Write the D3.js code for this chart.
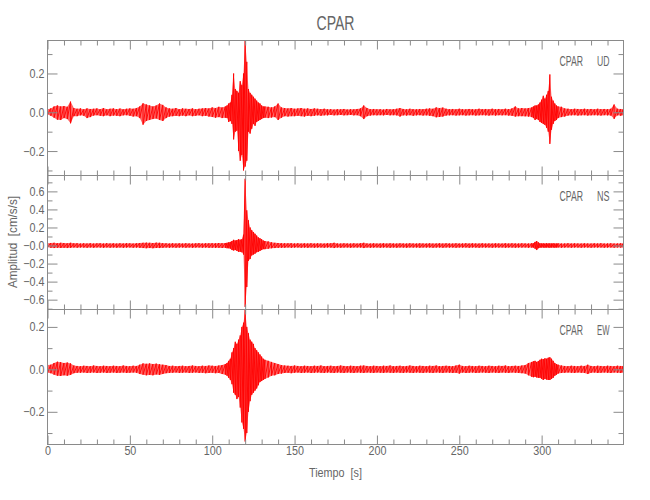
<!DOCTYPE html>
<html><head><meta charset="utf-8">
<script src="https://cdn.jsdelivr.net/npm/d3@7"></script>
<style>body{margin:0;background:#fff}svg{display:block}</style>
</head><body>
<svg id="chart" width="650" height="500"></svg>
<script>
// ---- sampling times (s) ----
const timeGrid = [
0,2,4,6,8,10,12,14,16,18,
20,22,24,26,28,30,32,34,36,38,
40,42,44,46,48,50,52,54,56,58,
60,62,64,66,68,70,72,74,76,78,
80,82,84,86,88,90,92,94,96,98,
100,102,104,106,108,
109,110,111,112,113,114,115,116,117,118,
119,120,121,122,123,124,125,126,127,128,
129,130,131,
132,134,136,138,140,142,144,146,148,150,
152,154,156,158,160,162,164,166,168,170,
172,174,176,178,180,182,184,186,188,190,
192,194,196,198,200,202,204,206,208,210,
212,214,216,218,220,222,224,226,228,230,
232,234,236,238,240,242,244,246,248,250,
252,254,256,258,260,262,264,266,268,270,
272,274,276,278,280,282,284,286,288,290,
292,294,
295,296,297,298,299,300,301,302,303,304,
305,306,307,308,309,
310,312,314,316,318,320,322,324,326,328,
330,332,334,336,338,340,342,344,346,348,
349.5];

// ---- CPAR UD: positive / negative peak amplitude (cm/s/s) ----
const udHigh = [
.015,.02,.03,.035,.03,.032,.028,.055,.022,.018,
.02,.015,.02,.017,.018,.02,.016,.022,.015,.018,
.02,.016,.019,.015,.018,.02,.018,.022,.03,.046,
.04,.035,.03,.035,.045,.038,.025,.02,.018,.022,
.016,.02,.018,.017,.02,.016,.018,.02,.022,.02,
.025,.022,.028,.025,.03,
.035,.045,.05,.09,.2,.12,.11,.1,.16,.14,
.2,.37,.26,.12,.1,.09,.08,.07,.06,.05,
.045,.035,.03,
.03,.028,.025,.03,.045,.025,.022,.02,.022,.018,
.02,.022,.018,.02,.017,.02,.018,.016,.018,.015,
.016,.014,.016,.015,.017,.014,.016,.015,.017,.02,
.035,.022,.016,.017,.015,.016,.014,.017,.015,.016,
.018,.022,.017,.015,.018,.016,.015,.017,.016,.018,
.02,.018,.025,.022,.024,.018,.016,.017,.015,.018,
.016,.015,.017,.016,.015,.018,.016,.017,.015,.018,
.016,.017,.015,.018,.016,.02,.03,.02,.022,.02,
.022,.025,
.03,.035,.035,.04,.05,.065,.085,.07,.09,.11,
.195,.08,.06,.045,.035,
.03,.028,.02,.018,.016,.018,.017,.016,.018,.016,
.017,.015,.018,.016,.017,.016,.018,.04,.018,.017,
.015];
const udLow = [
-.012,-.018,-.028,-.038,-.04,-.03,-.035,-.057,-.02,-.02,
-.016,-.018,-.03,-.025,-.017,-.015,-.018,-.02,-.016,-.02,
-.017,-.018,-.02,-.016,-.015,-.018,-.022,-.02,-.03,-.064,
-.045,-.04,-.035,-.032,-.04,-.045,-.03,-.022,-.02,-.018,
-.02,-.017,-.02,-.016,-.02,-.018,-.016,-.02,-.018,-.022,
-.024,-.028,-.025,-.03,-.028,
-.03,-.05,-.045,-.06,-.14,-.1,-.095,-.2,-.25,-.22,
-.3,-.28,-.25,-.1,-.11,-.085,-.06,-.07,-.05,-.045,
-.04,-.035,-.03,
-.028,-.03,-.027,-.025,-.04,-.028,-.02,-.022,-.02,-.02,
-.018,-.02,-.022,-.018,-.02,-.018,-.016,-.018,-.016,-.016,
-.014,-.016,-.015,-.014,-.016,-.015,-.014,-.016,-.015,-.02,
-.035,-.02,-.017,-.015,-.016,-.015,-.016,-.014,-.016,-.015,
-.016,-.022,-.016,-.017,-.015,-.018,-.016,-.015,-.017,-.016,
-.018,-.02,-.026,-.024,-.022,-.017,-.016,-.015,-.017,-.016,
-.015,-.017,-.016,-.015,-.017,-.016,-.015,-.016,-.017,-.015,
-.017,-.015,-.016,-.015,-.017,-.018,-.022,-.02,-.02,-.021,
-.022,-.025,
-.03,-.04,-.035,-.04,-.05,-.055,-.06,-.065,-.08,-.1,
-.163,-.09,-.06,-.045,-.04,
-.03,-.025,-.022,-.017,-.016,-.015,-.017,-.016,-.015,-.017,
-.016,-.015,-.016,-.017,-.015,-.016,-.017,-.034,-.016,-.018,
-.015];

// ---- CPAR NS ----
const nsHigh = [
.025,.028,.03,.026,.03,.028,.025,.03,.024,.026,
.022,.025,.023,.026,.022,.024,.025,.022,.026,.023,
.024,.022,.025,.023,.026,.024,.022,.025,.028,.03,
.032,.03,.028,.032,.03,.026,.024,.022,.025,.023,
.024,.022,.025,.023,.022,.024,.026,.023,.025,.024,
.026,.025,.028,.026,.028,
.03,.035,.04,.05,.063,.055,.06,.07,.065,.07,
.12,.74,.39,.28,.2,.17,.15,.13,.11,.09,
.08,.07,.055,
.05,.045,.035,.03,.028,.026,.025,.024,.026,.023,
.025,.022,.024,.023,.025,.022,.024,.023,.022,.025,
.024,.03,.023,.022,.024,.023,.022,.024,.022,.025,
.03,.023,.022,.024,.022,.023,.025,.022,.024,.023,
.022,.024,.023,.022,.025,.023,.022,.024,.023,.022,
.024,.022,.023,.025,.022,.024,.023,.022,.024,.022,
.023,.025,.022,.024,.023,.022,.024,.022,.023,.022,
.024,.023,.022,.025,.022,.024,.023,.022,.024,.023,
.022,.025,
.024,.04,.05,.035,.025,.023,.024,.022,.025,.023,
.024,.022,.025,.023,.022,
.024,.022,.023,.025,.022,.024,.023,.022,.024,.023,
.022,.024,.023,.025,.022,.023,.024,.022,.023,.024,
.022];
const nsLow = [
-.02,-.026,-.028,-.025,-.027,-.025,-.028,-.026,-.022,-.024,
-.022,-.023,-.025,-.022,-.024,-.022,-.023,-.025,-.022,-.024,
-.022,-.024,-.022,-.025,-.023,-.022,-.024,-.023,-.026,-.028,
-.03,-.028,-.03,-.027,-.028,-.025,-.023,-.024,-.022,-.024,
-.023,-.022,-.024,-.022,-.025,-.023,-.022,-.024,-.023,-.025,
-.024,-.026,-.025,-.027,-.026,
-.03,-.03,-.035,-.05,-.055,-.05,-.06,-.07,-.07,-.075,
-.1,-.68,-.46,-.17,-.15,-.11,-.1,-.09,-.075,-.07,
-.06,-.05,-.04,
-.04,-.035,-.03,-.028,-.026,-.025,-.024,-.022,-.025,-.023,
-.022,-.024,-.023,-.025,-.022,-.024,-.023,-.022,-.024,-.022,
-.023,-.028,-.022,-.024,-.023,-.022,-.024,-.022,-.023,-.022,
-.028,-.022,-.024,-.023,-.022,-.024,-.022,-.023,-.025,-.022,
-.024,-.022,-.023,-.024,-.022,-.023,-.022,-.024,-.022,-.023,
-.022,-.024,-.023,-.022,-.024,-.022,-.023,-.022,-.024,-.022,
-.023,-.022,-.024,-.022,-.023,-.024,-.022,-.023,-.022,-.024,
-.022,-.023,-.022,-.024,-.022,-.023,-.024,-.022,-.023,-.022,
-.024,-.023,
-.023,-.035,-.05,-.03,-.024,-.022,-.023,-.024,-.022,-.023,
-.025,-.022,-.023,-.024,-.022,
-.022,-.024,-.023,-.022,-.024,-.022,-.023,-.024,-.022,-.023,
-.024,-.022,-.023,-.022,-.024,-.023,-.022,-.024,-.022,-.023,
-.022];

// ---- CPAR EW ----
const ewHigh = [
.02,.022,.03,.036,.034,.03,.032,.028,.018,.016,
.015,.017,.016,.015,.018,.016,.015,.017,.016,.015,
.017,.016,.015,.018,.016,.015,.017,.016,.022,.028,
.026,.028,.025,.027,.024,.022,.02,.016,.017,.015,
.016,.017,.015,.016,.018,.016,.015,.017,.016,.018,
.017,.016,.018,.02,.025,
.03,.04,.05,.08,.1,.13,.12,.14,.16,.2,
.22,.28,.2,.17,.14,.13,.12,.1,.09,.08,
.07,.06,.05,
.045,.04,.035,.03,.025,.02,.018,.017,.016,.018,
.016,.015,.017,.016,.015,.017,.016,.018,.015,.016,
.017,.015,.016,.018,.016,.015,.017,.016,.015,.017,
.018,.016,.015,.017,.016,.015,.017,.016,.018,.015,
.016,.017,.015,.016,.018,.016,.015,.017,.016,.015,
.017,.016,.018,.015,.016,.017,.016,.015,.018,.022,
.016,.015,.017,.016,.015,.017,.016,.015,.017,.016,
.015,.017,.016,.018,.015,.016,.017,.016,.018,.02,
.03,.035,
.038,.04,.035,.039,.045,.05,.048,.052,.05,.055,
.057,.05,.04,.03,.025,
.022,.018,.016,.015,.017,.016,.015,.017,.016,.022,
.016,.015,.017,.016,.015,.017,.016,.015,.017,.016,
.016];
const ewLow = [
-.016,-.018,-.025,-.03,-.031,-.028,-.03,-.026,-.018,-.016,
-.016,-.015,-.017,-.016,-.015,-.017,-.016,-.015,-.017,-.016,
-.015,-.017,-.016,-.015,-.017,-.016,-.015,-.016,-.022,-.025,
-.028,-.026,-.028,-.024,-.026,-.022,-.018,-.017,-.016,-.015,
-.017,-.016,-.015,-.017,-.016,-.015,-.017,-.016,-.018,-.017,
-.016,-.018,-.017,-.022,-.025,
-.03,-.04,-.05,-.07,-.11,-.12,-.14,-.13,-.18,-.25,
-.28,-.34,-.3,-.2,-.15,-.12,-.11,-.1,-.09,-.075,
-.06,-.055,-.05,
-.045,-.038,-.03,-.028,-.022,-.02,-.017,-.016,-.018,-.016,
-.015,-.017,-.016,-.015,-.017,-.016,-.015,-.016,-.017,-.015,
-.016,-.017,-.015,-.016,-.017,-.015,-.016,-.017,-.015,-.016,
-.017,-.015,-.016,-.017,-.015,-.016,-.017,-.015,-.016,-.017,
-.015,-.016,-.017,-.015,-.016,-.017,-.015,-.016,-.017,-.015,
-.016,-.017,-.015,-.016,-.017,-.015,-.016,-.017,-.016,-.02,
-.015,-.017,-.016,-.015,-.017,-.016,-.015,-.016,-.017,-.015,
-.016,-.017,-.015,-.016,-.017,-.015,-.016,-.017,-.018,-.02,
-.028,-.035,
-.037,-.035,-.038,-.04,-.04,-.045,-.05,-.045,-.048,-.05,
-.05,-.045,-.04,-.03,-.025,
-.02,-.017,-.016,-.015,-.016,-.017,-.015,-.016,-.017,-.022,
-.016,-.015,-.017,-.016,-.015,-.016,-.017,-.015,-.016,-.017,
-.015];

// ---- axes / labels ----
const xDomain = [0, 349.7];
const xMajorTicks = [0,50,100,150,200,250,300];
const xMajorLabels = ["0","50","100","150","200","250","300"];
const xMinorTicks = [10,20,30,40,60,70,80,90,110,120,130,140,160,170,180,190,210,220,230,240,260,270,280,290,310,320,330,340];

const udDomain = [-0.326, 0.37];
const udMajorTicks = [-0.2, 0, 0.2];
const udMajorLabels = ["\u22120.2", "0.0", "0.2"];
const udMinorTicks = [-0.3, -0.1, 0.1, 0.3];

const nsDomain = [-0.709, 0.776];
const nsMajorTicks = [-0.6, -0.4, -0.2, 0, 0.2, 0.4, 0.6];
const nsMajorLabels = ["\u22120.6","\u22120.4","\u22120.2","\u22120.0","0.2","0.4","0.6"];
const nsMinorTicks = [-0.7, -0.5, -0.3, -0.1, 0.1, 0.3, 0.5, 0.7];

const ewDomain = [-0.354, 0.282];
const ewMajorTicks = [-0.2, 0, 0.2];
const ewMajorLabels = ["\u22120.2", "0.0", "0.2"];
const ewMinorTicks = [-0.3, -0.1, 0.1];

const stationName = "CPAR";
const componentNames = ["UD", "NS", "EW"];
const chartTitle = "CPAR";
const xTitle = "Tiempo  [s]";
const yTitle = "Amplitud  [cm/s/s]";

// ---- layout ----
const L = 47.5, R = 623.5;
const panelEdges = [40.5, 175.5, 309.5, 444.5];
const AXIS = "#8a8a8a", TEXT = "#666666", RED = "#ff0000";
const FONT = "'Liberation Sans', Arial, sans-serif";

const svg = d3.select("#chart");
const x = d3.scaleLinear().domain(xDomain).range([L, R]);

const panels = [
  {hi: udHigh, lo: udLow, dom: udDomain, maj: udMajorTicks, lab: udMajorLabels, min: udMinorTicks, comp: componentNames[0]},
  {hi: nsHigh, lo: nsLow, dom: nsDomain, maj: nsMajorTicks, lab: nsMajorLabels, min: nsMinorTicks, comp: componentNames[1]},
  {hi: ewHigh, lo: ewLow, dom: ewDomain, maj: ewMajorTicks, lab: ewMajorLabels, min: ewMinorTicks, comp: componentNames[2]}
];

function squeeze(sel, f) {
  sel.each(function() {
    const w = this.getComputedTextLength();
    d3.select(this).attr("textLength", w * f).attr("lengthAdjust", "spacingAndGlyphs");
  });
}

function styleAxis(g) {
  g.select(".domain").remove();
  g.selectAll(".tick line").attr("stroke", AXIS).attr("stroke-width", 1);
  g.attr("font-family", FONT).attr("font-size", 12.5);
  g.selectAll(".tick text").attr("fill", TEXT);
}

panels.forEach((p, i) => {
  const top = panelEdges[i], bot = panelEdges[i + 1];
  const y = d3.scaleLinear().domain(p.dom).range([bot, top]);
  const n = Math.min(timeGrid.length, p.hi.length, p.lo.length);
  const pts = d3.range(n).map(k => ({t: timeGrid[k], hi: p.hi[k], lo: p.lo[k]}));

  const clipId = "clip" + i;
  svg.append("clipPath").attr("id", clipId)
    .append("rect").attr("x", L).attr("y", top).attr("width", R - L).attr("height", bot - top);

  const g = svg.append("g").attr("clip-path", `url(#${clipId})`);
  const area = d3.area().x(d => x(d.t)).y0(d => y(d.lo)).y1(d => y(d.hi));
  g.append("path").datum(pts).attr("d", area)
    .attr("fill", RED).attr("fill-opacity", 0.6).attr("stroke", "none");
  const zig = pts.flatMap(d => [[x(d.t), y(d.hi)], [x(d.t), y(d.lo)]]);
  g.append("path").attr("d", d3.line()(zig))
    .attr("fill", "none").attr("stroke", RED).attr("stroke-width", 0.9);

  // y axes (left with labels, right mirrored)
  const gl = svg.append("g").attr("transform", `translate(${L},0)`)
    .call(d3.axisLeft(y).tickValues(p.maj).tickFormat((d, j) => p.lab[j]).tickSize(-10).tickPadding(3).tickSizeOuter(0));
  styleAxis(gl);
  squeeze(gl.selectAll(".tick text"), 0.86);
  const glm = svg.append("g").attr("transform", `translate(${L},0)`)
    .call(d3.axisLeft(y).tickValues(p.min).tickFormat("").tickSize(-5).tickSizeOuter(0));
  styleAxis(glm);
  const gr = svg.append("g").attr("transform", `translate(${R},0)`)
    .call(d3.axisRight(y).tickValues(p.maj).tickFormat("").tickSize(-10).tickSizeOuter(0));
  styleAxis(gr);
  const grm = svg.append("g").attr("transform", `translate(${R},0)`)
    .call(d3.axisRight(y).tickValues(p.min).tickFormat("").tickSize(-5).tickSizeOuter(0));
  styleAxis(grm);

  // x axes (top & bottom of each panel)
  const gt = svg.append("g").attr("transform", `translate(0,${top})`)
    .call(d3.axisTop(x).tickValues(xMajorTicks).tickFormat("").tickSize(-9).tickSizeOuter(0));
  styleAxis(gt);
  const gtm = svg.append("g").attr("transform", `translate(0,${top})`)
    .call(d3.axisTop(x).tickValues(xMinorTicks).tickFormat("").tickSize(-5).tickSizeOuter(0));
  styleAxis(gtm);
  const last = i === panels.length - 1;
  const gb = svg.append("g").attr("transform", `translate(0,${bot})`)
    .call(d3.axisBottom(x).tickValues(xMajorTicks)
      .tickFormat((d, j) => last ? xMajorLabels[j] : "").tickSize(-9).tickPadding(2).tickSizeOuter(0));
  styleAxis(gb);
  if (last) squeeze(gb.selectAll(".tick text"), 0.86);
  const gbm = svg.append("g").attr("transform", `translate(0,${bot})`)
    .call(d3.axisBottom(x).tickValues(xMinorTicks).tickFormat("").tickSize(-5).tickSizeOuter(0));
  styleAxis(gbm);

  // frame
  svg.append("rect").attr("x", L).attr("y", top).attr("width", R - L).attr("height", bot - top)
    .attr("fill", "none").attr("stroke", AXIS).attr("stroke-width", 1);

  // station / component label
  svg.append("text").attr("x", 559.5).attr("y", top + 25.5)
    .attr("font-family", FONT).attr("font-size", 14).attr("fill", TEXT)
    .attr("textLength", 23.5).attr("lengthAdjust", "spacingAndGlyphs").text(stationName);
  svg.append("text").attr("x", 597).attr("y", top + 25.5)
    .attr("font-family", FONT).attr("font-size", 14).attr("fill", TEXT)
    .attr("textLength", 12.5).attr("lengthAdjust", "spacingAndGlyphs").text(p.comp);
});

// titles
svg.append("text").attr("x", (L + R) / 2).attr("y", 30).attr("text-anchor", "middle")
  .attr("font-family", FONT).attr("font-size", 21).attr("fill", TEXT)
  .attr("textLength", 38).attr("lengthAdjust", "spacingAndGlyphs").text(chartTitle);
svg.append("text").attr("x", (L + R) / 2).attr("y", 477).attr("text-anchor", "middle")
  .attr("font-family", FONT).attr("font-size", 12.5).attr("fill", TEXT).attr("xml:space", "preserve")
  .style("white-space", "pre")
  .attr("textLength", 53).attr("lengthAdjust", "spacingAndGlyphs").text(xTitle);
svg.append("text").attr("transform", "translate(17,242) rotate(-90)").attr("text-anchor", "middle")
  .attr("font-family", FONT).attr("font-size", 12.5).attr("fill", TEXT)
  .style("white-space", "pre")
  .attr("textLength", 92).attr("lengthAdjust", "spacingAndGlyphs").text(yTitle);
</script>
</body></html>
